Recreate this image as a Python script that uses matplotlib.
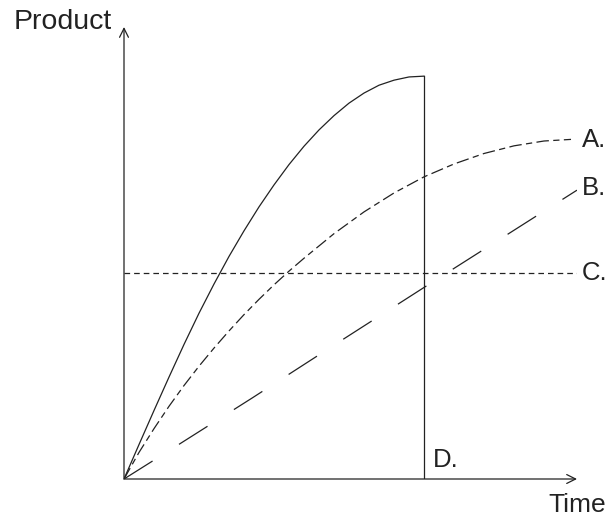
import numpy as np
import matplotlib
matplotlib.use("Agg")
import matplotlib.pyplot as plt

plt.rcParams['font.family'] = ['Liberation Sans', 'DejaVu Sans']

# values (time units, product units)
solid_t = [0, 0.5, 1, 1.5, 2, 2.5, 3, 3.5, 4, 4.5, 5, 5.5, 6, 6.5, 7, 7.5, 8, 8.5, 9, 9.5, 10]
solid_p = [0, 0.855, 1.70, 2.53, 3.34, 4.115, 4.84, 5.525, 6.16, 6.755, 7.30, 7.805,
           8.26, 8.665, 9.02, 9.33, 9.58, 9.775, 9.90, 9.98, 10.0]

a_t = [0, 0.5, 1, 1.5, 2, 2.5, 3, 3.5, 4, 4.5, 5, 5.5, 6, 7, 8, 9, 10, 11, 12, 13, 14, 14.9]
a_p = [0, 0.66, 1.25, 1.805, 2.32, 2.80, 3.25, 3.675, 4.08, 4.46, 4.82, 5.16, 5.48,
       6.09, 6.63, 7.10, 7.50, 7.82, 8.08, 8.27, 8.39, 8.43]

b_t = [0, 1.43, 4.27, 7.1, 9.97, 12.8, 15.1]
b_p = [0, 0.67, 2.01, 3.37, 4.74, 6.08, 7.17]

c_level = 5.11
d_time = 10
t_end = 15.1
p_end = 11.22

labels = ["A.", "B.", "C."]
label_p = [8.41, 7.22, 5.11]

ink = "#222222"

fig = plt.figure(figsize=(6.12, 5.22), dpi=100)
ax = fig.add_axes([124 / 612, 43 / 522, 453 / 612, 452 / 522])
ax.set_xlim(0, t_end)
ax.set_ylim(0, p_end)
ax.axis("off")

lw = 0.9
ax.plot(solid_t, solid_p, color=ink, lw=lw)
ax.plot(a_t, a_p, color=ink, lw=lw, dashes=(10, 3.5, 5, 3.5))
ax.plot(b_t, b_p, color=ink, lw=lw, dashes=(27, 25))
ax.plot([0, t_end], [c_level, c_level], color=ink, lw=lw, dashes=(4.5, 3.2))
ax.plot([d_time, d_time], [0, solid_p[-1]], color=ink, lw=lw)

# axes with open arrow heads
arrow = dict(arrowstyle="->", color=ink, lw=lw, mutation_scale=16,
             shrinkA=0, shrinkB=0)
ax.annotate("", xy=(t_end, 0), xytext=(0, 0), arrowprops=arrow, annotation_clip=False)
ax.annotate("", xy=(0, p_end), xytext=(0, 0), arrowprops=arrow, annotation_clip=False)

for lab, p in zip(labels, label_p):
    ax.text(t_end + 0.15, p, lab, fontsize=18.5, color=ink,
            ha="left", va="center", clip_on=False)

ax.text(d_time + 0.3, 0.47, "D.", fontsize=18.5, color=ink,
        ha="left", va="center")
ax.text(t_end, -0.65, "Time", fontsize=19, color=ink,
        ha="center", va="center", clip_on=False)
ax.text(-0.4, 11.34, "Product", fontsize=20.5, color=ink,
        ha="right", va="center", clip_on=False)

fig.savefig("out.png", dpi=100)
